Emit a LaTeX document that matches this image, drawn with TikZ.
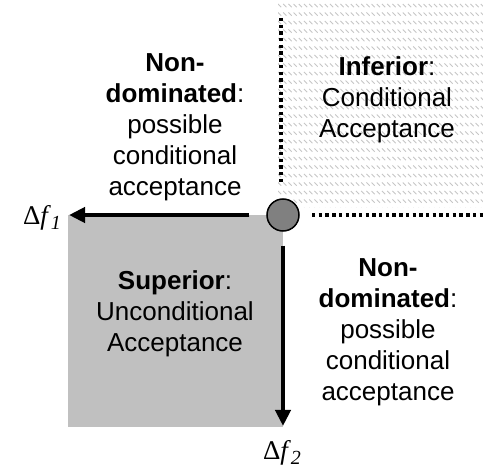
\documentclass[tikz,border=0pt]{standalone}
\usepackage{fontspec}
\setmainfont{Liberation Sans}
\newfontfamily\timesfont{Liberation Serif}
\usetikzlibrary{arrows.meta}
\definecolor{supgray}{HTML}{C0C0C0}
\definecolor{dotgray}{HTML}{808080}
\definecolor{hatchgray}{HTML}{C6C6C6}
\tikzset{
  regiontext/.style={align=center, inner sep=0pt, anchor=north,
    font=\fontsize{26}{31}\selectfont},
  axislabel/.style={inner sep=0pt, anchor=base,
    font=\timesfont\fontsize{27}{32}\selectfont},
  axisarrow/.style={line width=4pt,
    -{Triangle[length=16pt, width=15pt]}},
  dottedrule/.style={line width=3.4pt, dash pattern=on 3.4pt off 3.3pt},
  hatchstroke/.style={hatchgray, line width=0.9pt},
}
\begin{document}
\begin{tikzpicture}[x=1pt, y=-1pt]
  \useasboundingbox (0,0) rectangle (483,468);

  % superior quadrant
  \fill[supgray] (68,215) rectangle (283,427);

  % inferior quadrant: rows of short diagonal strokes
  \begin{scope}
    \clip (278,4) rectangle (483,208);
    \foreach \r in {0,...,24} {
      \foreach \c in {0,...,40} {
        \draw[hatchstroke] ({278+\c*5.2}, {4+\r*8.5}) -- ++(3.2,3.2);
      }
    }
  \end{scope}

  % dotted boundaries of the inferior quadrant
  \coordinate (vtop) at (281,18);
  \coordinate (vbot) at (281,184);
  \coordinate (hleft) at (312,215);
  \coordinate (hright) at (483,215);
  \draw[dottedrule] (vtop) -- (vbot);
  \draw[dottedrule] (hleft) -- (hright);

  % reference point
  \node[circle, draw=black, line width=1.5pt, fill=dotgray,
        minimum size=32pt, inner sep=0pt] (o) at (283,215) {};

  % axes
  \coordinate (x1end) at (69,215);
  \coordinate (x2end) at (283,426);
  \draw[axisarrow] ([xshift=-17pt]o.west) -- (x1end);
  \draw[axisarrow] ([yshift=-14pt]o.south) -- (x2end);

  \node[axislabel] (df1) at (42,225) {Δ\textit{f}\raisebox{-5pt}{\textit{\fontsize{20}{20}\selectfont 1}}};
  \node[axislabel] (df2) at (282,460) {Δ\textit{f}\raisebox{-5pt}{\textit{\fontsize{20}{20}\selectfont 2}}};

  % region labels
  \node[regiontext] (nd1) at (175,53)
    {\textbf{Non-}\\\textbf{dominated}:\\possible\\conditional\\acceptance};
  \node[regiontext] (inf) at (387,56)
    {\textbf{Inferior}:\\Conditional\\Acceptance};
  \node[regiontext] (sup) at (175,270)
    {\textbf{Superior}:\\Unconditional\\Acceptance};
  \node[regiontext] (nd2) at (388,258)
    {\textbf{Non-}\\\textbf{dominated}:\\possible\\conditional\\acceptance};
\end{tikzpicture}
\end{document}
